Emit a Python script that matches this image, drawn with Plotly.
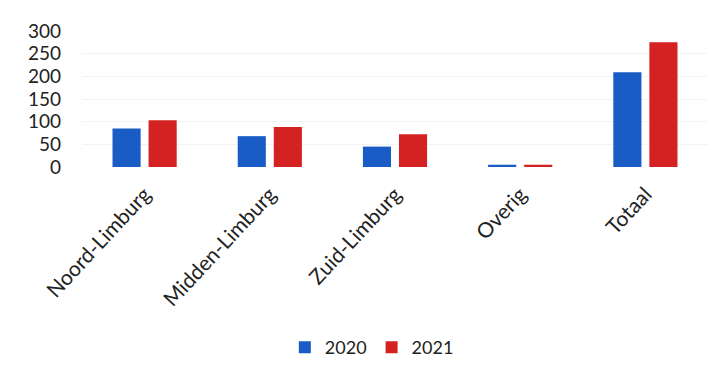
import plotly.graph_objects as go

categories = ["Noord-Limburg", "Midden-Limburg", "Zuid-Limburg", "Overig", "Totaal"]
values_2020 = [85, 68, 45, 5, 209]
values_2021 = [103, 88, 72, 5, 275]
y_ticks = [0, 50, 100, 150, 200, 250, 300]

FONT = "Lato, Noto Sans, sans-serif"

fig = go.Figure()
fig.add_trace(go.Bar(name="2020", x=categories, y=values_2020, marker_color="#1a5cc6", marker_line_width=0))
fig.add_trace(go.Bar(name="2021", x=categories, y=values_2021, marker_color="#d42222", marker_line_width=0))

fig.update_layout(
    width=728, height=376,
    margin=dict(l=82, r=20, t=31, b=208, pad=0),
    paper_bgcolor="white", plot_bgcolor="white",
    barmode="group", bargap=0.424, bargroupgap=0.22,
    font=dict(family=FONT, size=18, color="#222222"),
    showlegend=True,
    legend=dict(orientation="h", x=0.463, xanchor="center", y=-1.31, yanchor="middle",
                font=dict(size=18), itemwidth=30, traceorder="normal"),
)
fig.update_yaxes(range=[0, 300], tickvals=y_ticks, showgrid=True, gridcolor="#f3f3f3",
                 zeroline=False, showline=False, ticklabelstandoff=20,
                 tickfont=dict(size=19))
fig.update_xaxes(tickangle=-47, showline=False, showgrid=False, ticklabelstandoff=10,
                 tickfont=dict(size=21))

fig.write_html("out.html")
